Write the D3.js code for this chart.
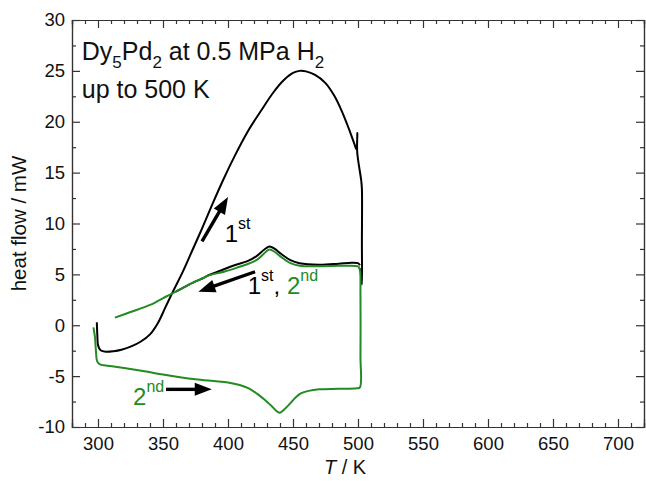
<!DOCTYPE html>
<html>
<head>
<meta charset="utf-8">
<script src="https://cdn.jsdelivr.net/npm/d3@7/dist/d3.min.js"></script>
<style>
  html, body { margin: 0; padding: 0; background: #fff; }
  svg { display: block; font-family: "Liberation Sans", Arial, sans-serif; }
</style>
</head>
<body>
<svg id="chart" width="646" height="481"></svg>
<script>
// DSC traces of Dy5Pd2 under 0.5 MPa H2, temperature (K) vs heat flow (mW)

// 1st run, heating to 500 K (with the drop at the isothermal end)
const run1Heating = [
  [299.1, 0.3], [299.5, -1.0], [300.1, -2.0], [302, -2.45], [306, -2.6],
  [312, -2.55], [318, -2.4], [326, -2.05], [333, -1.6], [340, -0.9],
  [346, 0.2], [352, 1.8], [358, 3.4], [365, 5.2], [372, 7.2], [380, 9.5],
  [388, 11.9], [396, 14.2], [405, 16.6], [415, 19.0], [425, 21.0],
  [435, 22.9], [443, 24.1], [450, 24.8], [455, 25.0], [460, 24.95],
  [467, 24.6], [475, 23.8], [482, 22.5], [488, 20.9], [493, 19.3],
  [497, 17.9], [498.8, 17.3], [499.5, 18.9], [499.4, 17.0], [502.5, 14.2],
  [503, 13.4], [503, 8.0], [503, 4.0], [502, 5.6]
];

// 1st run, cooling back from 500 K (below 384 K it runs under the 2nd run)
const run1Cooling = [
  [501.5, 5.9], [500, 6.1], [495, 6.15], [485, 6.05], [470, 5.95],
  [455, 6.1], [448, 6.4], [441, 7.0], [436, 7.5], [432, 7.75],
  [428, 7.45], [422, 6.8], [415, 6.3], [405, 5.9], [395, 5.4],
  [384, 4.85], [382, 4.7], [370, 4.0], [360, 3.3]
];

// 2nd run, heating to 500 K and the jump at the turning point
const run2Heating = [
  [296.5, -0.2], [297, -0.6], [297.7, -1.2], [298.4, -2.5], [299.4, -3.55],
  [301.5, -3.85], [306, -3.95], [312, -4.05], [325, -4.3], [337, -4.55],
  [350, -4.85], [363, -5.1], [375, -5.3], [389, -5.48], [400, -5.62],
  [409, -5.87], [416, -6.2], [422, -6.7], [428, -7.3], [434, -8.0],
  [438, -8.5], [440, -8.6], [443, -8.3], [447, -7.8], [452, -7.1],
  [456, -6.7], [462, -6.45], [470, -6.3], [485, -6.25], [499, -6.2],
  [501.5, -6.1], [501.9, -3.0], [501.9, 3.0], [501.5, 5.4], [500.3, 5.8]
];

// 2nd run, cooling
const run2Cooling = [
  [500.3, 5.8], [495, 5.85], [485, 5.85], [470, 5.8], [455, 5.85],
  [448, 6.1], [441, 6.7], [436, 7.2], [432, 7.45], [429, 7.2],
  [423, 6.5], [417, 6.1], [409, 5.75], [398, 5.3], [384, 4.85],
  [382, 4.7], [370, 4.0], [360, 3.3], [352.8, 2.85], [340, 2.0],
  [325, 1.3], [313, 0.75]
];

const xTicks = [300, 350, 400, 450, 500, 550, 600, 650, 700];
const yTicks = [-10, -5, 0, 5, 10, 15, 20, 25, 30];

const black = "#000000";
const green = "#228b22";

const svg = d3.select("#chart");
const margin = { left: 72, right: 2, top: 20, bottom: 54 };
const W = 646, H = 481;

const x = d3.scaleLinear().domain([280, 720]).range([margin.left, W - margin.right]);
const y = d3.scaleLinear().domain([-10, 30]).range([H - margin.bottom, margin.top]);

const x0 = x.range()[0], x1 = x.range()[1];
const y0 = y.range()[0], y1 = y.range()[1];

// axes: ticks on all four sides, pointing inward
const xMinor = d3.range(280, 721, 10).filter(v => v % 50 !== 0);
const yMinor = d3.range(-10, 30.01, 2.5).filter(v => v % 5 !== 0);
const axisColor = "#333";
const plain = d => String(d);

const xBottom = svg.append("g").attr("transform", `translate(0,${y0})`)
  .call(d3.axisBottom(x).tickValues(xTicks).tickSize(-8).tickPadding(10).tickFormat(plain));
const xBottomMinor = svg.append("g").attr("transform", `translate(0,${y0})`)
  .call(d3.axisBottom(x).tickValues(xMinor).tickSize(-4).tickFormat(""));
const xTop = svg.append("g").attr("transform", `translate(0,${y1})`)
  .call(d3.axisTop(x).tickValues(xTicks).tickSize(-8).tickFormat(""));
const xTopMinor = svg.append("g").attr("transform", `translate(0,${y1})`)
  .call(d3.axisTop(x).tickValues(xMinor).tickSize(-4).tickFormat(""));
const yLeft = svg.append("g").attr("transform", `translate(${x0},0)`)
  .call(d3.axisLeft(y).tickValues(yTicks).tickSize(-8).tickPadding(7).tickFormat(plain));
const yLeftMinor = svg.append("g").attr("transform", `translate(${x0},0)`)
  .call(d3.axisLeft(y).tickValues(yMinor).tickSize(-4).tickFormat(""));
const yRight = svg.append("g").attr("transform", `translate(${x1},0)`)
  .call(d3.axisRight(y).tickValues(yTicks).tickSize(-8).tickFormat(""));
const yRightMinor = svg.append("g").attr("transform", `translate(${x1},0)`)
  .call(d3.axisRight(y).tickValues(yMinor).tickSize(-4).tickFormat(""));

[xBottom, xBottomMinor, xTop, xTopMinor, yLeft, yLeftMinor, yRight, yRightMinor].forEach(g => {
  g.select(".domain").attr("stroke", axisColor).attr("stroke-width", 1.2);
  g.selectAll(".tick line").attr("stroke", axisColor).attr("stroke-width", 1.2);
  g.selectAll(".tick text").attr("fill", "#111").style("font-size", "18.5px")
    .style("font-family", "'Liberation Sans', Arial, sans-serif");
});

// axis titles
svg.append("text")
  .attr("x", 345).attr("y", 474)
  .attr("text-anchor", "middle").style("font-size", "20px").attr("fill", "#111")
  .call(t => {
    t.append("tspan").attr("font-style", "italic").text("T");
    t.append("tspan").text(" / K");
  });

svg.append("text")
  .attr("transform", `translate(26,${(y0 + y1) / 2}) rotate(-90)`)
  .attr("text-anchor", "middle").style("font-size", "20.5px").attr("fill", "#111")
  .text("heat flow / mW");

// traces
const line = d3.line()
  .x(d => x(d[0])).y(d => y(d[1]))
  .curve(d3.curveCatmullRom.alpha(0.5));

const plot = svg.append("g");
[[run1Heating, black], [run1Cooling, black], [run2Heating, green], [run2Cooling, green]]
  .forEach(([data, color]) => {
    plot.append("path")
      .datum(data)
      .attr("d", line)
      .attr("fill", "none")
      .attr("stroke", color)
      .attr("stroke-width", 2)
      .attr("stroke-linejoin", "round");
  });

// direction arrows (data coordinates: tail -> tip)
const arrows = [
  { from: [380, 8.25], to: [400, 12.6] },
  { from: [420.8, 5.26], to: [377.2, 3.3] },
  { from: [352.3, -6.3], to: [387.5, -6.3] }
];

arrows.forEach(a => {
  const xa = x(a.from[0]), ya = y(a.from[1]);
  const xb = x(a.to[0]), yb = y(a.to[1]);
  const ang = Math.atan2(yb - ya, xb - xa);
  const headLen = 17, headW = 6.5;
  const bx = xb - headLen * Math.cos(ang), by = yb - headLen * Math.sin(ang);
  plot.append("line")
    .attr("x1", xa).attr("y1", ya).attr("x2", bx + 2 * Math.cos(ang)).attr("y2", by + 2 * Math.sin(ang))
    .attr("stroke", black).attr("stroke-width", 3.4);
  const px = -Math.sin(ang), py = Math.cos(ang);
  plot.append("path")
    .attr("d", `M${xb},${yb}L${bx + px * headW},${by + py * headW}L${bx - px * headW},${by - py * headW}Z`)
    .attr("fill", black);
});

// run labels with ordinal superscripts
function ordinalLabel(sel, parts) {
  parts.forEach(p => {
    const ts = sel.append("tspan").attr("fill", p.color).text(p.text);
    if (p.sup) ts.attr("dy", p.dy).style("font-size", "16px");
    else if (p.dy) ts.attr("dy", p.dy);
  });
}

const labelFont = "24px";
ordinalLabel(
  plot.append("text").attr("x", x(397.5)).attr("y", y(8.2)).style("font-size", labelFont),
  [{ text: "1", color: black }, { text: "st", color: black, sup: true, dy: -13 }]
);
ordinalLabel(
  plot.append("text").attr("x", x(415.2)).attr("y", y(3.07)).style("font-size", labelFont),
  [
    { text: "1", color: black },
    { text: "st", color: black, sup: true, dy: -13 },
    { text: ", ", color: black, dy: 13 },
    { text: "2", color: green },
    { text: "nd", color: green, sup: true, dy: -13 }
  ]
);
ordinalLabel(
  plot.append("text").attr("x", x(327)).attr("y", y(-7.84)).style("font-size", labelFont),
  [{ text: "2", color: green }, { text: "nd", color: green, sup: true, dy: -13 }]
);

// sample title
const title = svg.append("g").style("font-size", "25px").attr("fill", "#111");
const t1 = title.append("text").attr("x", x(287.5)).attr("y", y(26.1));
[["Dy", false], ["5", true], ["Pd", false], ["2", true], [" at 0.5 MPa H", false], ["2", true]]
  .forEach(([s, sub], i, arr) => {
    const ts = t1.append("tspan").text(s);
    if (sub) ts.attr("dy", 8).style("font-size", "17px");
    else if (i > 0 && arr[i - 1][1]) ts.attr("dy", -8);
  });
title.append("text").attr("x", x(287.5)).attr("y", y(22.3)).text("up to 500 K");
</script>
</body>
</html>
